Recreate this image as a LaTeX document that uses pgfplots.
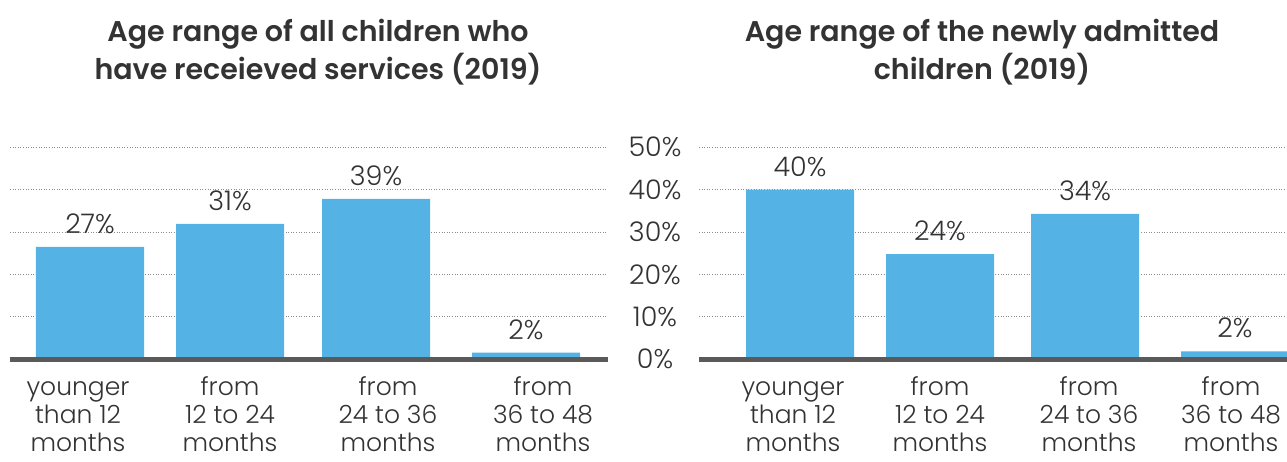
\documentclass[border=0pt]{standalone}
\usepackage{fontspec}
\setmainfont{Poppins}[UprightFont=* Light, BoldFont=* SemiBold]
\usepackage{pgfplots}
\pgfplotsset{compat=1.18}
\definecolor{barblue}{HTML}{55B2E4}
\definecolor{textgray}{HTML}{333333}
\definecolor{basegray}{HTML}{5A5A5A}
\definecolor{gridgray}{HTML}{8C8C8C}

\pgfplotstableread{
x    y     m
90   26.5  27
230  31.9  31
376  37.8  39
526  1.5   2
}\leftdata
\pgfplotstableread{
x     y     m
800   40.0  40
940   24.8  24
1085  34.3  34
1235  1.8   2
}\rightdata

\pgfplotsset{agebars/.style={
  scale only axis, height=211.7pt,
  ymin=0, ymax=50, ytick={0,10,...,50},
  ymajorgrids,
  grid style={color=gridgray, line width=0.9pt, dash pattern=on 1pt off 1.6pt},
  axis line style={draw=none}, major tick length=0pt,
  clip=false,
  /pgf/number format/assume math mode=true,
  ybar, bar width=108pt,
  point meta=explicit,
  nodes near coords={\pgfmathprintnumber{\pgfplotspointmeta}\%},
  every node near coord/.append style={font=\fontsize{27}{30}\selectfont, text=textgray, anchor=south, inner sep=0pt, yshift=13pt},
  xticklabel style={font=\fontsize{25}{28}\selectfont, align=center, text=textgray, inner sep=0pt, anchor=north, yshift=-17pt},
  xticklabels={{\strut younger\\than 12\\months},{\strut from\\12 to 24\\months},{\strut from\\24 to 36\\months},{\strut from\\36 to 48\\months}},
}}

\begin{document}
\begin{tikzpicture}[x=1pt,y=1pt]
\useasboundingbox (0,0) rectangle (1287,461);

\node[anchor=north, align=center, font=\bfseries\fontsize{28.5}{38}\selectfont, text=textgray, inner sep=0pt] at (318,442)
  {Age range of all children who\\have receieved services (2019)};
\node[anchor=north, align=center, font=\bfseries\fontsize{28.5}{38}\selectfont, text=textgray, inner sep=0pt] at (982,442)
  {Age range of the newly admitted\\children (2019)};

\begin{axis}[agebars, at={(10pt,102pt)}, anchor=south west, width=598pt,
  xmin=10, xmax=608, xtick={78,230,388,543}, yticklabels={}]
\addplot[fill=barblue, draw=none] table[x=x, y=y, meta=m] {\leftdata};
\draw[line width=5pt, basegray] (axis cs:10,0) -- (axis cs:608,0);
\end{axis}

\begin{axis}[agebars, at={(699pt,102pt)}, anchor=south west, width=588pt,
  xmin=699, xmax=1287, xtick={793,940,1089,1231},
  yticklabel={\pgfmathprintnumber{\tick}\%},
  yticklabel style={font=\fontsize{27}{30}\selectfont, text=textgray, anchor=center, inner sep=0pt, xshift=-44pt}]
\addplot[fill=barblue, draw=none] table[x=x, y=y, meta=m] {\rightdata};
\draw[line width=5pt, basegray] (axis cs:699,0) -- (axis cs:1300,0);
\end{axis}
\end{tikzpicture}
\end{document}
